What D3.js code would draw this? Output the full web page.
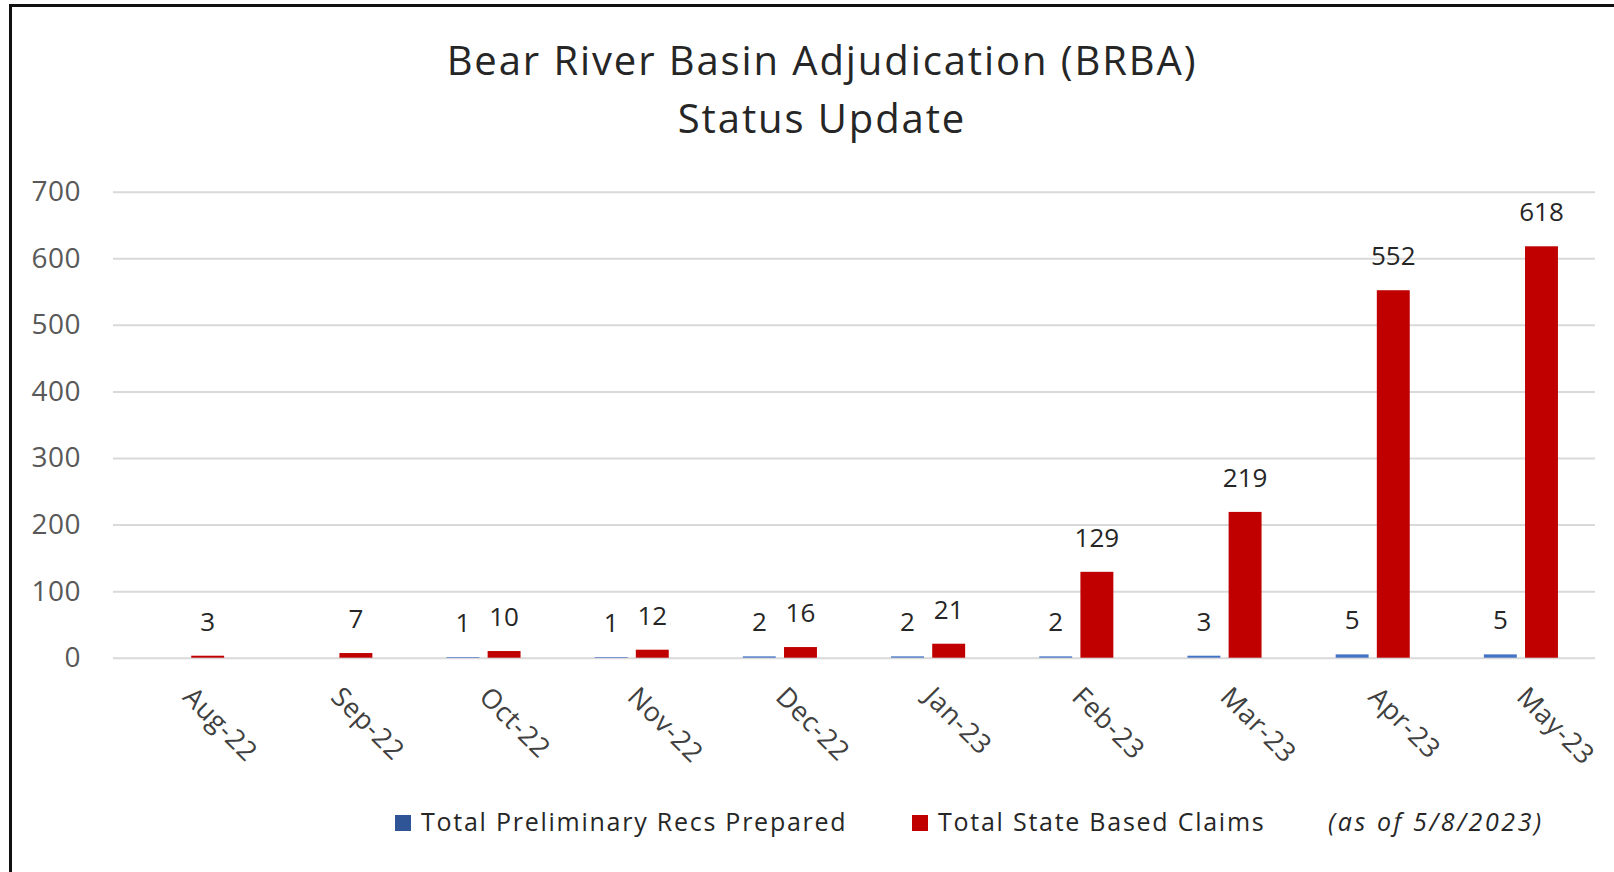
<!DOCTYPE html>
<html lang="en">
<head>
  <meta charset="UTF-8">
  <style>
    body { margin: 0; background: #fff; }
    svg { font-family: "Open Sans", sans-serif; }
    .grid line { stroke: #d9d9d9; stroke-width: 2; }
    .grid text { fill: #595959; font-size: 28px; font-family: "Open Sans", sans-serif; letter-spacing: 0.5px; }
    .xlab { fill: #404040; font-size: 27px; letter-spacing: 0.6px; }
    .val { fill: #262626; font-size: 26px; text-anchor: middle; }
    .legend text { fill: #262626; font-size: 25px; letter-spacing: 1.75px; }
  </style>
</head>
<body>
  <svg class="chart"></svg>
  <script src="https://cdnjs.cloudflare.com/ajax/libs/d3/7.8.5/d3.min.js"></script>
  <script>
    const categories = ['Aug-22', 'Sep-22', 'Oct-22', 'Nov-22', 'Dec-22', 'Jan-23', 'Feb-23', 'Mar-23', 'Apr-23', 'May-23']
    const prelimRecs = [null, null, 1, 1, 2, 2, 2, 3, 5, 5]
    const stateClaims = [3, 7, 10, 12, 16, 21, 129, 219, 552, 618]
    const yTicks = [0, 100, 200, 300, 400, 500, 600, 700]
    const seriesNames = ['Total Preliminary Recs Prepared', 'Total State Based Claims']
    const seriesColors = ['#4472c4', '#c00000']
    const legendSwatch = ['#2f5597', '#c00000']

    const chart = { width: 1614, height: 872 }
    const margin = { top: 191.7, right: 19, bottom: 214.3, left: 113 }
    const w = chart.width - margin.left - margin.right
    const h = chart.height - margin.top - margin.bottom

    const svg = d3.select('.chart')
      .attr('width', chart.width)
      .attr('height', chart.height)

    // outer chart border (runs off the right and bottom edges)
    svg.append('rect')
      .attr('x', 10.5).attr('y', 5.5)
      .attr('width', 1700).attr('height', 1000)
      .attr('fill', 'none').attr('stroke', '#111').attr('stroke-width', 3)

    const title = svg.append('text')
      .attr('text-anchor', 'middle')
      .attr('fill', '#262626')
      .style('font-size', '40px')
      .style('letter-spacing', '1.9px')
    title.append('tspan').attr('x', 822).attr('y', 75).text('Bear River Basin Adjudication (BRBA)')
    title.append('tspan').attr('x', 822).attr('y', 133).text('Status Update')

    const g = svg.append('g').attr('transform', `translate(${margin.left},${margin.top})`)

    const x = d3.scaleBand().domain(categories).range([0, w])
    const x1 = d3.scaleBand().domain([0, 1])
      .range([x.bandwidth() * 0.25, x.bandwidth() * 0.75])
      .paddingInner(0.2)
    const y = d3.scaleLinear().domain([0, 700]).range([h, 0])

    g.append('g').attr('class', 'grid')
      .call(d3.axisLeft(y).tickValues(yTicks).tickSize(-w).tickPadding(32))
      .call(a => a.select('.domain').remove())

    const rows = categories.map((c, i) => ({ cat: c, vals: [prelimRecs[i], stateClaims[i]] }))

    const groups = g.selectAll('.cat')
      .data(rows)
      .enter().append('g')
        .attr('transform', d => `translate(${x(d.cat)},0)`)

    const cells = groups.selectAll('g')
      .data(d => d.vals.map((v, s) => ({ v, s })).filter(e => e.v != null))
      .enter().append('g')

    cells.append('rect')
      .attr('x', d => x1(d.s))
      .attr('width', x1.bandwidth())
      .attr('y', d => y(d.v))
      .attr('height', d => h - y(d.v))
      .attr('fill', d => seriesColors[d.s])

    cells.append('text')
      .attr('class', 'val')
      .attr('x', d => x1(d.s) + x1.bandwidth() / 2)
      .attr('y', d => y(d.v) - 25)
      .text(d => d.v)

    // rotated category labels
    g.selectAll('.xlab')
      .data(categories)
      .enter().append('text')
        .attr('class', 'xlab')
        .attr('transform', d => `translate(${x(d) + x.bandwidth() / 2 + 1},${h + 34}) rotate(45)`)
        .attr('dy', '0.35em')
        .text(d => d)

    // legend
    const legend = svg.append('g').attr('class', 'legend')
    const legendX = [395, 912]
    seriesNames.forEach((name, i) => {
      legend.append('rect')
        .attr('x', legendX[i]).attr('y', 815)
        .attr('width', 16).attr('height', 16)
        .attr('fill', legendSwatch[i])
      legend.append('text')
        .attr('x', legendX[i] + 26).attr('y', 831)
        .text(name)
    })
    legend.append('text')
      .attr('x', 1328).attr('y', 831)
      .style('font-style', 'italic')
      .style('letter-spacing', '2.6px')
      .text('(as of 5/8/2023)')
  </script>
</body>
</html>
